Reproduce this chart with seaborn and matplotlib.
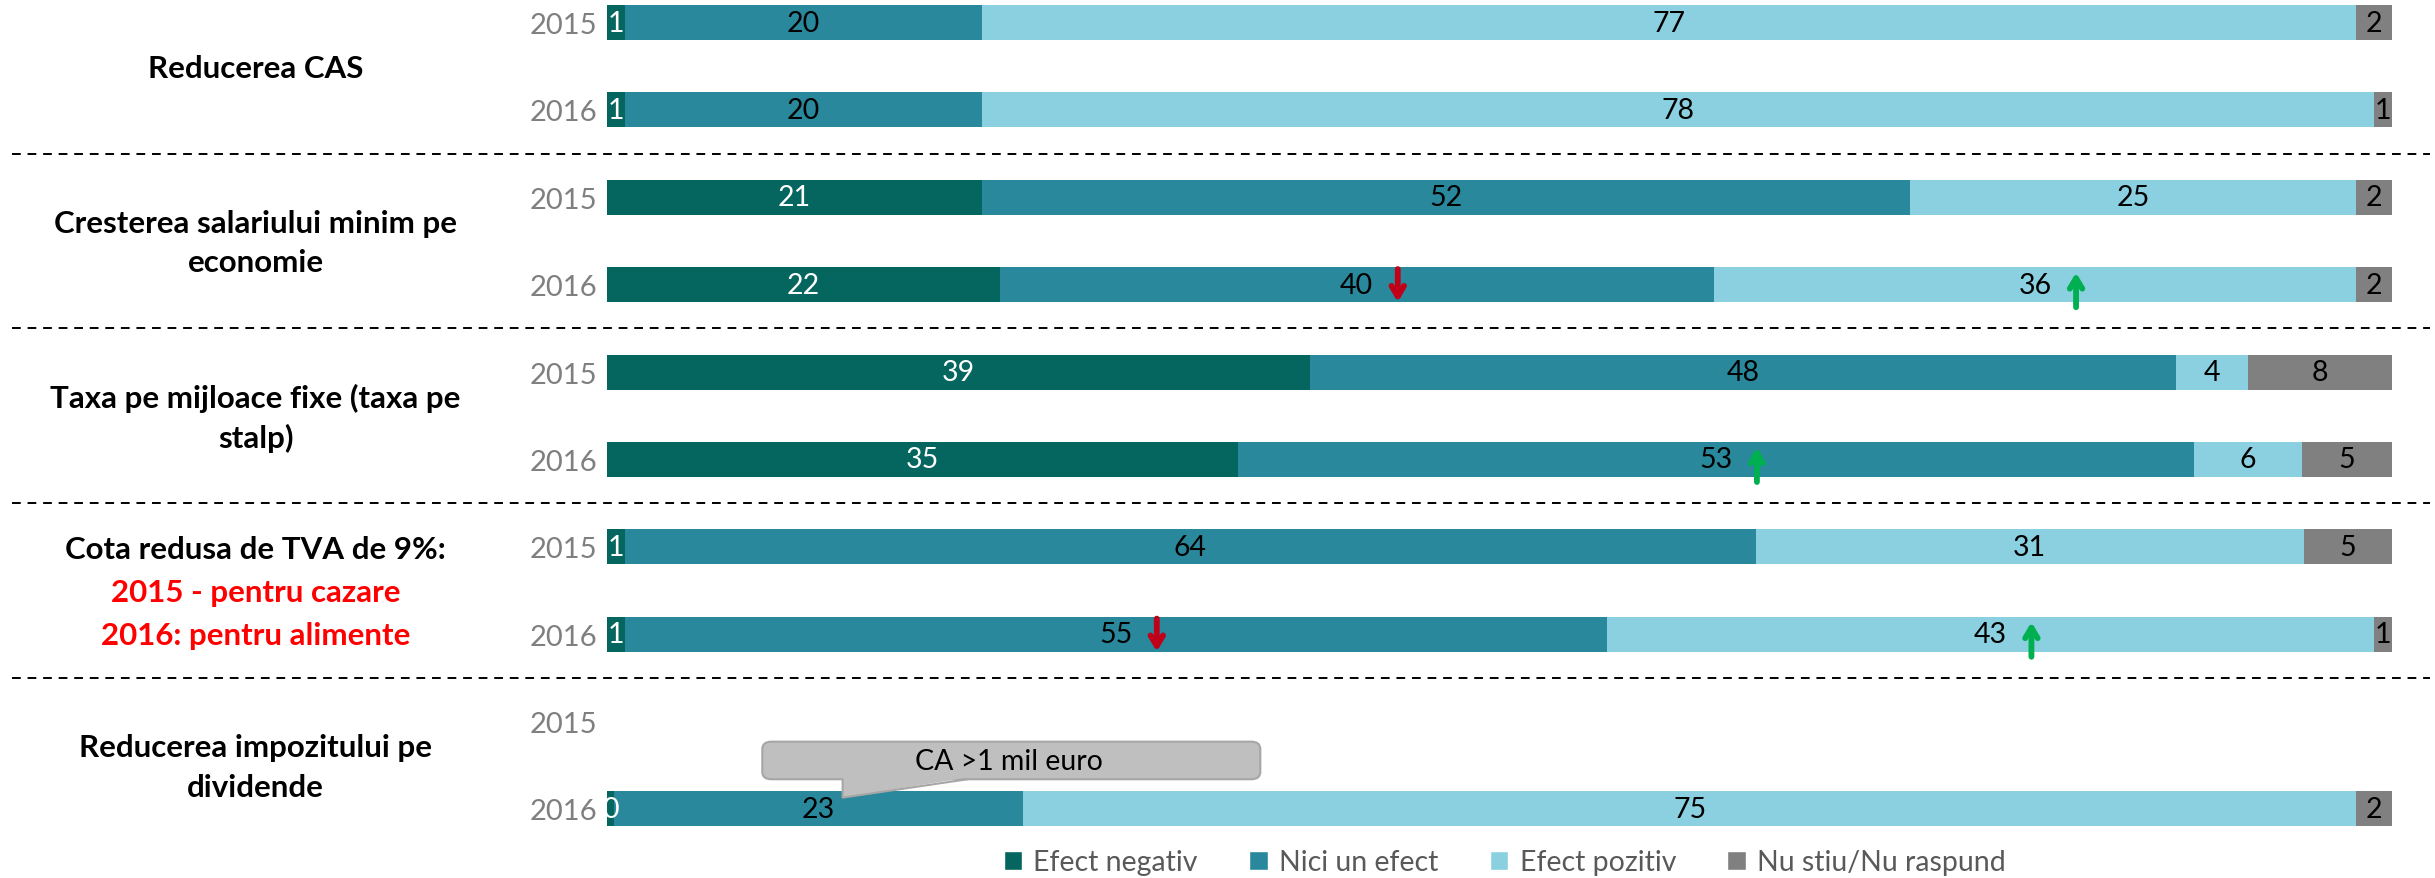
import numpy as np
import pandas as pd
import matplotlib.pyplot as plt
import matplotlib.transforms as mtransforms
from matplotlib.patches import Patch, FancyBboxPatch, Polygon
import seaborn as sns

# --- data ---
years = ['2015', '2016', '2015', '2016', '2015', '2016', '2015', '2016', '2015', '2016']
efect_negativ = [1, 1, 21, 22, 39, 35, 1, 1, np.nan, 0.4]
nici_un_efect = [20, 20, 52, 40, 48, 53, 64, 55, np.nan, 23]
efect_pozitiv = [77, 78, 25, 36, 4, 6, 31, 43, np.nan, 75]
nu_stiu = [2, 1, 2, 2, 8, 5, 5, 1, np.nan, 2]

series_names = ['Efect negativ', 'Nici un efect', 'Efect pozitiv', 'Nu stiu/Nu raspund']
colors = ['#04665F', '#2A889C', '#8BD0E0', '#808080']
text_colors = ['white', 'black', 'black', 'black']

# arrows: (row, series index, 'down'/'up')
arrows = [(3, 1, 'down'), (3, 2, 'up'), (5, 1, 'up'), (7, 1, 'down'), (7, 2, 'up')]

sns.set_style('white')
plt.rcParams['font.family'] = ['Lato', 'DejaVu Sans']

df = pd.DataFrame({'row': [f'r{i}' for i in range(len(years))],
                   'year': years})
vals = np.array([efect_negativ, nici_un_efect, efect_pozitiv, nu_stiu], dtype=float).T
pct = vals / np.nansum(vals, axis=1, keepdims=True) * 100
cum = np.cumsum(pct, axis=1)
for j in range(4):
    df[f'cum{j}'] = cum[:, j]

fig = plt.figure(figsize=(24.35, 8.79), dpi=100)
ax = fig.add_axes([607 / 2435, 0, (2392 - 607) / 2435, 1])
order = list(df['row'])
bar_h = 0.40
for j in reversed(range(4)):
    sns.barplot(data=df, x=f'cum{j}', y='row', order=order, orient='h',
                color=colors[j], width=bar_h, errorbar=None, linewidth=0,
                saturation=1, ax=ax)

ax.set_xlim(0, 100)
ax.set_ylim(9.79, -0.269)
ax.set_xlabel('')
ax.set_ylabel('')
ax.set_xticks([])
ax.set_yticks(range(len(years)))
ax.set_yticklabels(years, fontsize=21, color='#7F7F7F')
ax.tick_params(axis='y', length=0, pad=7)
sns.despine(ax=ax, left=True, bottom=True)

# value labels
centers = cum - pct / 2
for i in range(len(years)):
    if np.isnan(vals[i, 0]):
        continue
    for j in range(4):
        ax.text(centers[i, j], i, f'{vals[i, j]:.0f}', ha='center', va='center',
                fontsize=20.5, color=text_colors[j])

# arrows next to labels
style = '->,head_length=0.75,head_width=0.45'
for row, j, d in arrows:
    x = centers[row, j] + 2.3
    if d == 'down':
        ax.annotate('', xy=(x, row + 0.23), xytext=(x, row - 0.21),
                    arrowprops=dict(arrowstyle=style, color='#C00018', lw=4.2))
    else:
        ax.annotate('', xy=(x, row - 0.17), xytext=(x, row + 0.29),
                    arrowprops=dict(arrowstyle=style, color='#00B050', lw=4.2))

# dashed separators and group labels
trans = mtransforms.blended_transform_factory(fig.transFigure, ax.transData)
for y in [1.5, 3.5, 5.5, 7.5]:
    ax.plot([0.005, 0.998], [y, y], transform=trans, color='black', lw=1.4,
            ls=(0, (4.5, 3.5)), clip_on=False)

group_lines = [
    (0.5, [('Reducerea CAS', 'black')]),
    (2.5, [('Cresterea salariului minim pe', 'black'), ('economie', 'black')]),
    (4.5, [('Taxa pe mijloace fixe (taxa pe', 'black'), ('stalp)', 'black')]),
    (6.5, [('Cota redusa de TVA de 9%:', 'black'), ('2015 - pentru cazare', '#FF0000'),
           ('2016: pentru alimente', '#FF0000')]),
    (8.5, [('Reducerea impozitului pe', 'black'), ('dividende', 'black')]),
]
for yc, lines in group_lines:
    n = len(lines)
    step = 0.45 if n == 2 else 0.49
    for k, (txt, col) in enumerate(lines):
        y = yc + (k - (n - 1) / 2) * step + 0.02
        ax.text(0.105, y, txt, transform=trans, ha='center', va='center',
                fontsize=22.5, fontweight='bold', color=col)

# callout
box = FancyBboxPatch((8.7, 8.23), 27.9, 0.43,
                     boxstyle='round,pad=0,rounding_size=0.5', mutation_aspect=0.17,
                     facecolor='#BFBFBF', edgecolor='#A6A6A6', lw=1.5, zorder=5,
                     clip_on=False)
ax.add_patch(box)
tri = Polygon([(13.2, 8.64), (13.2, 8.87), (20.2, 8.64)], closed=True,
              facecolor='#BFBFBF', edgecolor='none', zorder=6)
ax.add_patch(tri)
ax.plot([13.2, 13.2, 20.2], [8.66, 8.87, 8.66], color='#A6A6A6', lw=1.5, zorder=7)
ax.text(22.5, 8.45, 'CA >1 mil euro', ha='center', va='center', fontsize=20.5,
        color='black', zorder=8)

handles = [Patch(facecolor=c, label=n) for c, n in zip(colors, series_names)]
fig.legend(handles=handles, loc='center', bbox_to_anchor=(0.618, 0.018), ncol=4,
           frameon=False, fontsize=20.5, labelcolor='#595959', handlelength=0.65,
           handleheight=0.65, handletextpad=0.4, columnspacing=1.8)

fig.savefig('out.png', dpi=100)
